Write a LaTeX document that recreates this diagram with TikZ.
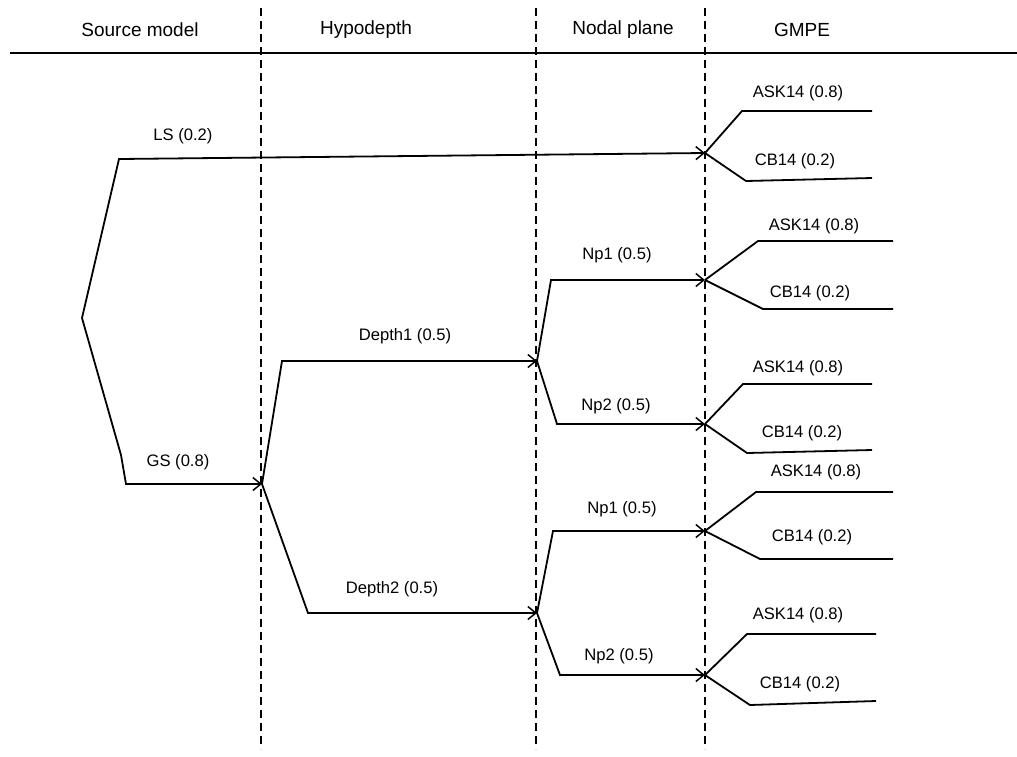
\documentclass[tikz,border=0pt]{standalone}
\usepackage{fontspec}
\setmainfont{Liberation Sans}
\usetikzlibrary{arrows.meta}
\begin{document}
\begin{tikzpicture}[x=1pt,y=-1pt,
  hdr/.style={font=\fontsize{19}{22}\selectfont, inner sep=0pt},
  lbl/.style={font=\fontsize{16.6}{19}\selectfont, inner sep=0pt},
  branch/.style={line width=1.8pt, line join=miter},
  arr/.style={branch, -{Straight Barb[length=8pt,width=13pt,line width=1.5pt]}},
  sep/.style={line width=2.5pt, dash pattern=on 8pt off 5pt},
  rule/.style={line width=2.7pt}]
\useasboundingbox (0,0) rectangle (1017,756);
\fill[white] (0,0) rectangle (1017,756);

% headers
\node[hdr] (h1) at (140,30) {Source model};
\node[hdr] (h2) at (366,30) {Hypodepth};
\node[hdr] (h3) at (623,30) {Nodal plane};
\node[hdr] (h4) at (802,30) {GMPE};
\coordinate (rl) at (10,53);
\coordinate (rr) at (1017,53);
\draw[rule] (rl) -- (rr);

% separators
\coordinate (s1t) at (261,8);  \coordinate (s1b) at (261,749);
\coordinate (s2t) at (536,8);  \coordinate (s2b) at (536,749);
\coordinate (s3t) at (705,8);  \coordinate (s3b) at (705,749);
\draw[sep] (s1t) -- (s1b);
\draw[sep] (s2t) -- (s2b);
\draw[sep] (s3t) -- (s3b);

% tree points
\coordinate (R) at (82,318);
\coordinate (a1) at (119,159);
\coordinate (b1) at (121,455);
\coordinate (b2) at (126,484);
\coordinate (H) at (262,484);
\coordinate (d1) at (282,361);
\coordinate (N1) at (537,361);
\coordinate (d2) at (308,613);
\coordinate (N2) at (537,613);
\coordinate (G0) at (705,153);
\coordinate (p1) at (551,280); \coordinate (G1) at (705,280);
\coordinate (p2) at (557,424); \coordinate (G2) at (705,424);
\coordinate (p3) at (553,531); \coordinate (G3) at (705,531);
\coordinate (p4) at (560,675); \coordinate (G4) at (705,675);

% source model
\draw[arr] (R) -- (a1) -- (G0);
\draw[arr] (R) -- (b1) -- (b2) -- (H);
\node[lbl] (lLS) at (183,136) {LS (0.2)};
\node[lbl] (lGS) at (178,462) {GS (0.8)};

% hypodepth
\draw[arr] (H) -- (d1) -- (N1);
\draw[arr] (H) -- (d2) -- (N2);
\node[lbl] (lD1) at (405,336) {Depth1 (0.5)};
\node[lbl] (lD2) at (392,589) {Depth2 (0.5)};

% nodal plane
\draw[arr] (N1) -- (p1) -- (G1);
\draw[arr] (N1) -- (p2) -- (G2);
\draw[arr] (N2) -- (p3) -- (G3);
\draw[arr] (N2) -- (p4) -- (G4);
\node[lbl] (lN1) at (617,255) {Np1 (0.5)};
\node[lbl] (lN2) at (616,406) {Np2 (0.5)};
\node[lbl] (lN3) at (622,509) {Np1 (0.5)};
\node[lbl] (lN4) at (619,656) {Np2 (0.5)};

% GMPE branches
\coordinate (g0a) at (742,111); \coordinate (g0b) at (872,111);
\coordinate (g0c) at (746,181); \coordinate (g0d) at (872,178);
\draw[branch] (G0) -- (g0a) -- (g0b);
\draw[branch] (G0) -- (g0c) -- (g0d);
\node[lbl] (k0a) at (798,93) {ASK14 (0.8)};
\node[lbl] (k0c) at (795,161) {CB14 (0.2)};

\coordinate (g1a) at (758,241); \coordinate (g1b) at (893,241);
\coordinate (g1c) at (763,309); \coordinate (g1d) at (893,309);
\draw[branch] (G1) -- (g1a) -- (g1b);
\draw[branch] (G1) -- (g1c) -- (g1d);
\node[lbl] (k1a) at (814,226) {ASK14 (0.8)};
\node[lbl] (k1c) at (810,293) {CB14 (0.2)};

\coordinate (g2a) at (743,384); \coordinate (g2b) at (872,384);
\coordinate (g2c) at (747,453); \coordinate (g2d) at (872,450);
\draw[branch] (G2) -- (g2a) -- (g2b);
\draw[branch] (G2) -- (g2c) -- (g2d);
\node[lbl] (k2a) at (798,368) {ASK14 (0.8)};
\node[lbl] (k2c) at (802,433) {CB14 (0.2)};

\coordinate (g3a) at (756,492); \coordinate (g3b) at (893,492);
\coordinate (g3c) at (760,559); \coordinate (g3d) at (893,559);
\draw[branch] (G3) -- (g3a) -- (g3b);
\draw[branch] (G3) -- (g3c) -- (g3d);
\node[lbl] (k3a) at (816,472) {ASK14 (0.8)};
\node[lbl] (k3c) at (812,537) {CB14 (0.2)};

\coordinate (g4a) at (747,634); \coordinate (g4b) at (876,634);
\coordinate (g4c) at (750,705); \coordinate (g4d) at (876,701);
\draw[branch] (G4) -- (g4a) -- (g4b);
\draw[branch] (G4) -- (g4c) -- (g4d);
\node[lbl] (k4a) at (798,615) {ASK14 (0.8)};
\node[lbl] (k4c) at (800,684) {CB14 (0.2)};
\end{tikzpicture}
\end{document}
